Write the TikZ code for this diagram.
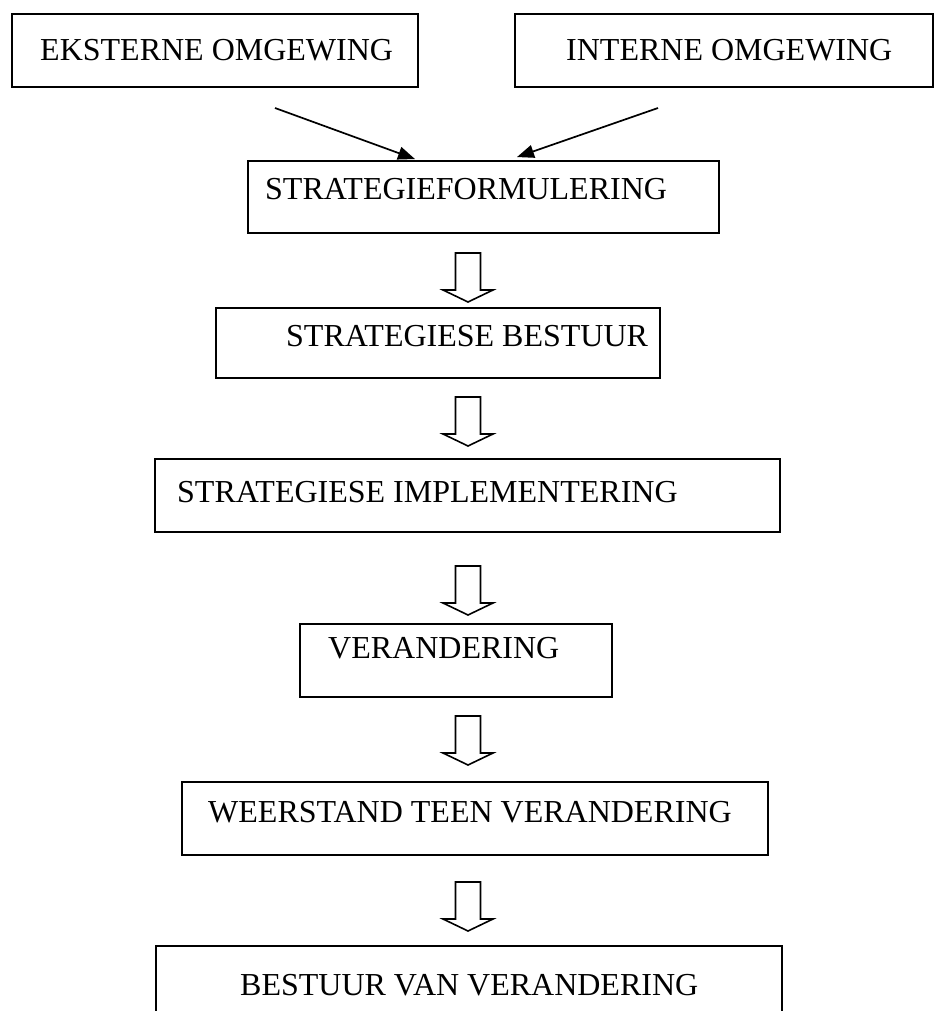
\documentclass[tikz,border=0pt]{standalone}
\usepackage{fontspec}
\setmainfont{Liberation Serif}
\usetikzlibrary{arrows.meta}
\begin{document}
\begin{tikzpicture}[x=1pt,y=-1pt,
  box/.style={draw, line width=1.9pt, rectangle, inner sep=0pt},
  lbl/.style={anchor=base west, inner sep=0pt, font=\fontsize{32}{36}\selectfont},
  linearrow/.style={line width=1.7pt, -{Triangle[length=17pt,width=13pt]}},
  blk/.pic={\draw[line width=1.6pt, fill=white, line join=miter]
     (-12.5,0) -- (12.5,0) -- (12.5,37) -- (25,37) -- (0,49) -- (-25,37) -- (-12.5,37) -- cycle;}
]
\useasboundingbox (0,0) rectangle (937,1011);
\clip (0,0) rectangle (937,1011);
% boxes
\node[box, minimum width=406pt, minimum height=73pt] (A) at (215,50.5) {};
\node[box, minimum width=418pt, minimum height=73pt] (B) at (724,50.5) {};
\node[box, minimum width=471pt, minimum height=72pt] (C) at (483.5,197) {};
\node[box, minimum width=444pt, minimum height=70pt] (D) at (438,343) {};
\node[box, minimum width=625pt, minimum height=73pt] (E) at (467.5,495.5) {};
\node[box, minimum width=312pt, minimum height=73pt] (F) at (456,660.5) {};
\node[box, minimum width=586pt, minimum height=73pt] (G) at (475,818.5) {};
\node[box, minimum width=626pt, minimum height=90pt] (H) at (469,991) {};
% texts
\node[lbl] (tA) at (40,61) {EKSTERNE OMGEWING};
\node[lbl] (tB) at (566,61) {INTERNE OMGEWING};
\node[lbl] (tC) at (265,200) {STRATEGIEFORMULERING};
\node[lbl] (tD) at (286,346) {STRATEGIESE BESTUUR};
\node[lbl] (tE) at (177,502) {STRATEGIESE IMPLEMENTERING};
\node[lbl] (tF) at (328,658) {VERANDERING};
\node[lbl] (tG) at (208,822) {WEERSTAND TEEN VERANDERING};
\node[lbl] (tH) at (240,995) {BESTUUR VAN VERANDERING};
% line arrows
\coordinate (s1) at (275,108);
\coordinate (s2) at (658,108);
\draw[linearrow] (s1) -- ([xshift=-68.5pt,yshift=1pt]C.north);
\draw[linearrow] (s2) -- ([xshift=33.5pt,yshift=3pt]C.north);
% block arrows
\pic at (468,253) {blk};
\pic at (468,397) {blk};
\pic at (468,566) {blk};
\pic at (468,716) {blk};
\pic at (468,882) {blk};
\end{tikzpicture}
\end{document}
